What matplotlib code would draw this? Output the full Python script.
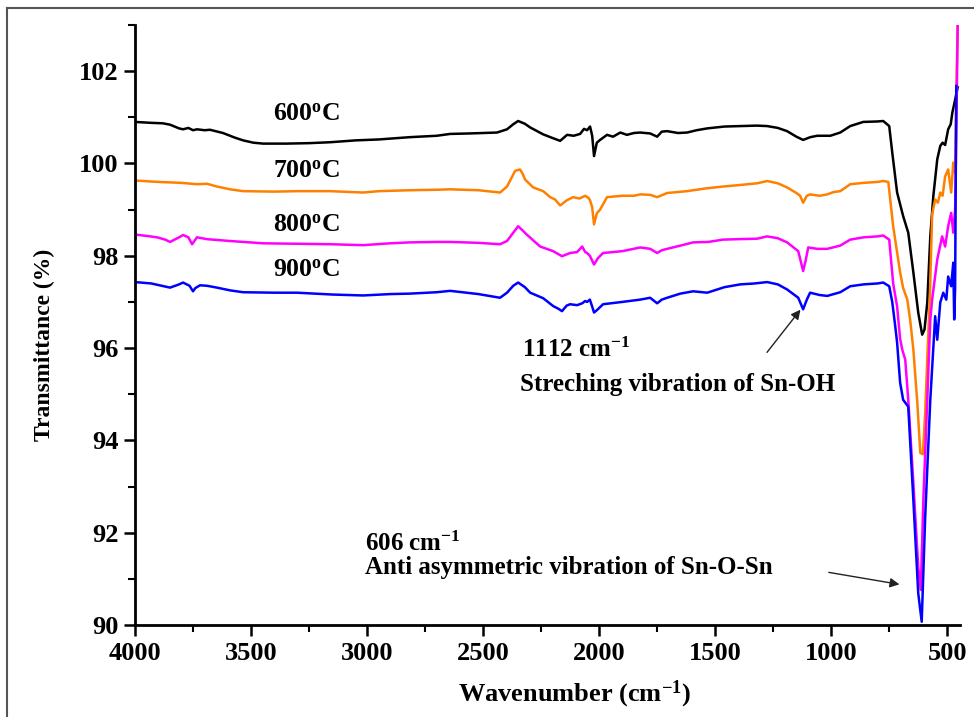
import matplotlib
matplotlib.use("Agg")
import matplotlib.pyplot as plt
from matplotlib.lines import Line2D
from matplotlib.ticker import MultipleLocator

plt.rcParams["font.family"] = ["Liberation Serif", "DejaVu Serif"]
plt.rcParams["font.weight"] = "bold"
plt.rcParams["mathtext.fontset"] = "custom"
plt.rcParams["mathtext.rm"] = "Liberation Serif:bold"
plt.rcParams["mathtext.it"] = "Liberation Serif:italic:bold"
plt.rcParams["mathtext.bf"] = "Liberation Serif:bold"

# FTIR spectra of SnO2 calcined at different temperatures
labels = ["600$^{\\rm o}$C", "700$^{\\rm o}$C", "800$^{\\rm o}$C", "900$^{\\rm o}$C"]
colors = ["#000000", "#FF8000", "#FF00FF", "#0000FF"]

wn_600 = [4000, 3930, 3880, 3849, 3810, 3793, 3770, 3750, 3733, 3700, 3677, 3621, 3570, 3534,
          3490, 3448, 3350, 3250, 3159, 3050, 2950, 2815, 2700, 2642, 2560, 2440, 2397, 2370,
          2349, 2320, 2297, 2241, 2200, 2168, 2138, 2110, 2082, 2065, 2052, 2039, 2030, 2022,
          2010, 1996, 1966, 1940, 1909, 1880, 1850, 1823, 1780, 1750, 1730, 1707, 1660, 1621,
          1580, 1534, 1460, 1392, 1320, 1276, 1230, 1190, 1150, 1121, 1090, 1060, 1004, 961,
          918, 862, 800, 776, 750, 737, 716, 690, 668, 646, 625, 608, 598, 586, 573, 560, 543,
          530, 520, 509, 496, 485, 478, 466, 455]
t_600 = [100.90, 100.88, 100.87, 100.84, 100.76, 100.74, 100.77, 100.72, 100.74, 100.72, 100.73,
         100.66, 100.56, 100.50, 100.45, 100.43, 100.43, 100.44, 100.46, 100.50, 100.52, 100.57,
         100.60, 100.64, 100.65, 100.67, 100.74, 100.85, 100.92, 100.86, 100.78, 100.63, 100.55,
         100.49, 100.62, 100.60, 100.64, 100.75, 100.72, 100.80, 100.60, 100.16, 100.45, 100.51,
         100.62, 100.58, 100.67, 100.62, 100.66, 100.67, 100.65, 100.58, 100.69, 100.70, 100.66,
         100.67, 100.72, 100.76, 100.80, 100.81, 100.82, 100.81, 100.77, 100.70, 100.58, 100.51,
         100.57, 100.60, 100.60, 100.67, 100.81, 100.90, 100.91, 100.92, 100.81, 100.24, 99.37,
         98.86, 98.50, 97.64, 96.77, 96.29, 96.40, 96.99, 98.42, 99.29, 100.09, 100.38, 100.45,
         100.40, 100.74, 100.85, 101.10, 101.38, 101.65]

wn_700 = [4000, 3900, 3800, 3733, 3690, 3647, 3590, 3534, 3400, 3300, 3159, 3017, 2950, 2815,
          2700, 2642, 2520, 2427, 2397, 2362, 2341, 2330, 2319, 2284, 2241, 2211, 2190, 2168,
          2140, 2112, 2085, 2060, 2045, 2039, 2030, 2022, 2010, 1996, 1966, 1900, 1850, 1823,
          1780, 1750, 1707, 1621, 1540, 1466, 1400, 1319, 1276, 1230, 1190, 1150, 1134, 1121,
          1105, 1091, 1050, 1017, 990, 961, 918, 860, 800, 776, 754, 733, 703, 690, 672, 660,
          646, 629, 616, 605, 595, 585, 575, 565, 552, 540, 530, 520, 509, 496, 483, 474, 466,
          461, 455]
t_700 = [99.63, 99.60, 99.58, 99.55, 99.56, 99.50, 99.44, 99.40, 99.39, 99.40, 99.40, 99.37,
         99.40, 99.42, 99.43, 99.44, 99.42, 99.37, 99.50, 99.84, 99.87, 99.78, 99.65, 99.48,
         99.40, 99.27, 99.22, 99.09, 99.20, 99.27, 99.24, 99.30, 99.25, 99.20, 99.05, 98.68,
         98.92, 99.00, 99.27, 99.30, 99.30, 99.33, 99.32, 99.27, 99.36, 99.40, 99.46, 99.50,
         99.53, 99.57, 99.62, 99.57, 99.48, 99.36, 99.30, 99.15, 99.30, 99.33, 99.30, 99.33,
         99.38, 99.40, 99.55, 99.58, 99.60, 99.62, 99.60, 98.64, 97.64, 97.30, 97.05, 96.62,
         95.97, 94.82, 93.73, 93.70, 94.60, 95.90, 97.10, 98.90, 99.22, 99.15, 99.37, 99.30,
         99.72, 99.87, 99.37, 100.02, 99.80, 101.50, 103.00]

wn_800 = [4000, 3950, 3905, 3870, 3849, 3810, 3793, 3770, 3754, 3740, 3733, 3690, 3591, 3448,
          3300, 3159, 3017, 2900, 2815, 2700, 2642, 2520, 2427, 2397, 2370, 2349, 2330, 2310,
          2254, 2198, 2160, 2125, 2095, 2073, 2060, 2052, 2040, 2022, 2005, 1983, 1900, 1823,
          1780, 1750, 1730, 1707, 1650, 1595, 1530, 1466, 1400, 1319, 1276, 1230, 1190, 1142,
          1121, 1110, 1099, 1060, 1017, 961, 918, 860, 800, 776, 750, 733, 716, 703, 694, 681,
          668, 646, 625, 614, 603, 586, 573, 565, 543, 522, 509, 496, 483, 474, 466, 460, 455]
t_800 = [98.46, 98.43, 98.40, 98.35, 98.30, 98.40, 98.45, 98.40, 98.25, 98.35, 98.40, 98.36,
         98.32, 98.27, 98.26, 98.25, 98.23, 98.27, 98.29, 98.30, 98.30, 98.28, 98.25, 98.32,
         98.50, 98.64, 98.55, 98.45, 98.20, 98.10, 97.99, 98.06, 98.08, 98.20, 98.08, 98.06,
         98.00, 97.81, 97.95, 98.06, 98.10, 98.18, 98.15, 98.06, 98.12, 98.15, 98.22, 98.29,
         98.30, 98.35, 98.36, 98.37, 98.42, 98.38, 98.29, 98.10, 97.67, 97.90, 98.18, 98.15,
         98.15, 98.22, 98.35, 98.40, 98.42, 98.44, 98.35, 97.40, 96.90, 96.20, 95.97, 95.75,
         94.88, 93.08, 91.26, 90.76, 92.71, 94.88, 96.62, 97.05, 97.92, 98.42, 98.20, 98.64,
         98.93, 98.50, 99.00, 101.00, 103.00]

wn_900 = [4000, 3930, 3849, 3810, 3793, 3765, 3750, 3740, 3720, 3690, 3647, 3590, 3534, 3400,
          3302, 3150, 3017, 2900, 2815, 2700, 2642, 2520, 2427, 2397, 2370, 2349, 2320, 2297,
          2241, 2198, 2175, 2160, 2140, 2125, 2095, 2073, 2060, 2052, 2040, 2030, 2022, 2010,
          1983, 1900, 1823, 1780, 1750, 1730, 1707, 1650, 1595, 1534, 1460, 1392, 1330, 1276,
          1230, 1190, 1142, 1121, 1105, 1091, 1050, 1017, 961, 918, 860, 800, 776, 750, 737,
          724, 716, 703, 690, 668, 646, 625, 610, 595, 573, 552, 543, 530, 517, 504, 496, 483,
          474, 470, 466, 461]
t_900 = [97.43, 97.40, 97.31, 97.38, 97.42, 97.35, 97.23, 97.30, 97.36, 97.35, 97.31, 97.25,
         97.21, 97.20, 97.20, 97.16, 97.14, 97.17, 97.18, 97.21, 97.24, 97.17, 97.09, 97.20,
         97.35, 97.42, 97.32, 97.20, 97.08, 96.91, 96.85, 96.80, 96.92, 96.95, 96.93, 96.97,
         97.02, 97.00, 97.05, 96.90, 96.77, 96.82, 96.95, 97.00, 97.05, 97.09, 96.97, 97.05,
         97.09, 97.18, 97.23, 97.20, 97.32, 97.38, 97.40, 97.43, 97.38, 97.27, 97.09, 96.84,
         97.05, 97.20, 97.15, 97.13, 97.21, 97.34, 97.38, 97.40, 97.42, 97.34, 97.00, 96.47,
         96.12, 95.25, 94.88, 94.73, 92.71, 90.69, 90.07, 92.34, 94.88, 96.69, 96.18, 96.99,
         97.20, 97.05, 97.55, 97.34, 97.85, 96.62, 97.30, 101.68]

series = [(wn_600, t_600), (wn_700, t_700), (wn_800, t_800), (wn_900, t_900)]

fig = plt.figure(figsize=(9.74, 7.17), dpi=100)
ax = fig.add_axes([135 / 974, 1 - 625 / 717, 825 / 974, 600 / 717])

for (wn, t), c in zip(series, colors):
    ax.plot(wn, t, color=c, lw=1.8, solid_joinstyle="round")

ax.set_xlim(4000, 445)
ax.set_ylim(90, 103)
ax.xaxis.set_major_locator(MultipleLocator(500))
ax.xaxis.set_minor_locator(MultipleLocator(250))
ax.yaxis.set_major_locator(MultipleLocator(2))
ax.yaxis.set_minor_locator(MultipleLocator(1))

for side in ("top", "right"):
    ax.spines[side].set_visible(False)
for side in ("left", "bottom"):
    ax.spines[side].set_linewidth(2.0)

ax.tick_params(which="major", direction="out", length=8, width=1.8, labelsize=19, pad=4)
ax.tick_params(which="minor", direction="out", length=5, width=1.5)
for lab in ax.get_xticklabels() + ax.get_yticklabels():
    lab.set_fontweight("bold")

ax.set_xlabel("Wavenumber (cm$^{-1}$)", fontsize=19, fontweight="bold")
ax.xaxis.set_label_coords(0.533, -0.09)
ax.set_ylabel("Transmittance (%)", fontsize=17, fontweight="bold")
ax.yaxis.set_label_coords(-0.097, 0.467)

# temperature labels above each trace
label_y = [101.07, 99.83, 98.66, 97.68]
for lab, y in zip(labels, label_y):
    ax.text(3259, y, lab, fontsize=18.5, fontweight="bold", ha="center", va="center")

# band assignments
ax.text(2332, 95.97, "1112 cm$^{-1}$", fontsize=18, fontweight="bold", ha="left", va="center")
ax.text(2341, 95.21, "Streching vibration of Sn-OH", fontsize=18, fontweight="bold",
        ha="left", va="center")
ax.annotate("", xy=(1125, 96.88), xytext=(1284, 95.86),
            arrowprops=dict(arrowstyle="-|>", color="#222222", lw=1.0, mutation_scale=14))

ax.text(3009, 91.76, "606 cm$^{-1}$", fontsize=18, fontweight="bold", ha="left", va="center")
ax.text(3009, 91.24, "Anti asymmetric vibration of Sn-O-Sn", fontsize=18, fontweight="bold",
        ha="left", va="center")
ax.annotate("", xy=(694, 90.87), xytext=(1022, 91.15),
            arrowprops=dict(arrowstyle="-|>", color="#222222", lw=1.0, mutation_scale=14))

# outer frame lines
fig.add_artist(Line2D([7 / 974, 7 / 974], [0, 1 - 8 / 717], transform=fig.transFigure,
                      color="#555555", lw=1.5))
fig.add_artist(Line2D([7 / 974, 1], [1 - 8 / 717, 1 - 8 / 717], transform=fig.transFigure,
                      color="#555555", lw=1.5))

fig.savefig("out.png", dpi=100)
